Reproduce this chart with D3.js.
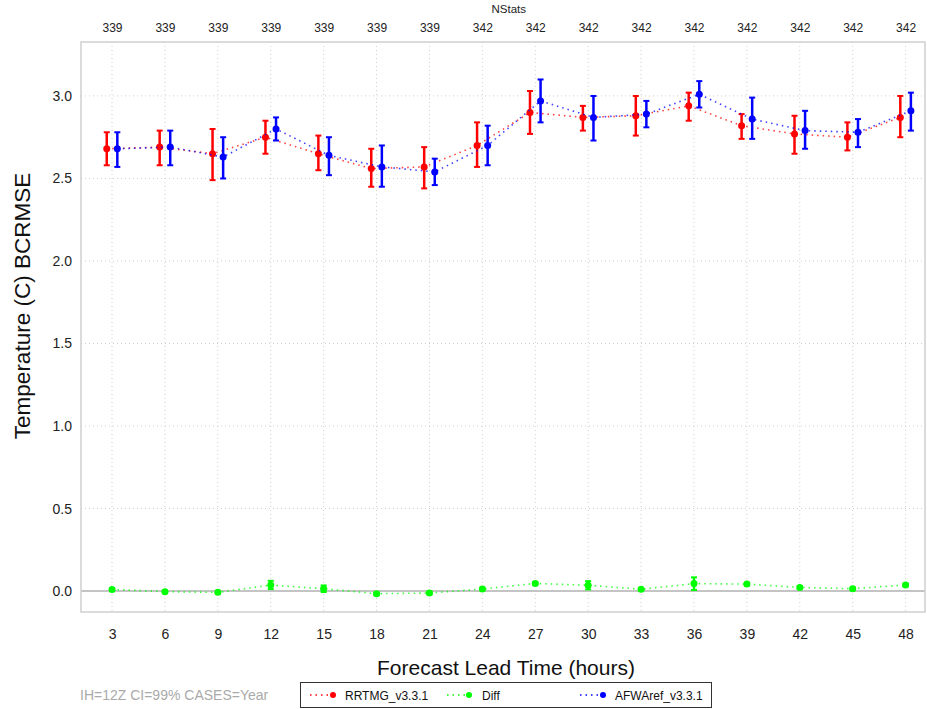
<!DOCTYPE html>
<html><head><meta charset="utf-8">
<script src="https://cdn.jsdelivr.net/npm/d3@7"></script>
<style>body{margin:0;background:#fff}svg{display:block;font-family:"Liberation Sans",Arial,sans-serif}</style>
</head><body><svg id="c" width="927" height="709"></svg>
<script>
const leadTimes = [3,6,9,12,15,18,21,24,27,30,33,36,39,42,45,48];
const nStats = [339,339,339,339,339,339,339,342,342,342,342,342,342,342,342,342];
const yTicks = [0.0,0.5,1.0,1.5,2.0,2.5,3.0];

const rrtmg    = [2.68,2.69,2.65,2.75,2.65,2.56,2.57,2.70,2.90,2.87,2.88,2.94,2.82,2.77,2.75,2.87];
const rrtmgLo  = [2.58,2.58,2.49,2.65,2.55,2.45,2.44,2.57,2.77,2.79,2.76,2.85,2.74,2.65,2.67,2.75];
const rrtmgHi  = [2.78,2.79,2.80,2.85,2.76,2.68,2.69,2.84,3.03,2.94,3.00,3.02,2.89,2.88,2.84,3.00];

const afwa     = [2.68,2.69,2.63,2.80,2.64,2.57,2.54,2.70,2.97,2.87,2.89,3.01,2.86,2.79,2.78,2.91];
const afwaLo   = [2.57,2.58,2.50,2.73,2.52,2.45,2.46,2.58,2.84,2.73,2.81,2.93,2.74,2.68,2.69,2.79];
const afwaHi   = [2.78,2.79,2.75,2.87,2.75,2.70,2.62,2.82,3.10,3.00,2.97,3.09,2.99,2.91,2.86,3.02];

const diff     = [0.010,-0.004,-0.008,0.036,0.014,-0.016,-0.012,0.012,0.046,0.035,0.011,0.045,0.042,0.022,0.014,0.037];
const diffLo   = [0.002,-0.010,-0.016,0.012,-0.006,-0.024,-0.020,0.004,0.038,0.010,0.003,0.006,0.034,0.014,0.006,0.029];
const diffHi   = [0.018,0.002,0.000,0.062,0.034,-0.008,-0.004,0.020,0.054,0.060,0.019,0.083,0.050,0.030,0.022,0.045];

const series = [
  {name:"RRTMG_v3.3.1", color:"#ff0000", off:-0.3, v:rrtmg, lo:rrtmgLo, hi:rrtmgHi},
  {name:"Diff", color:"#00ff00", off:0, v:diff, lo:diffLo, hi:diffHi},
  {name:"AFWAref_v3.3.1", color:"#0000ff", off:0.3, v:afwa, lo:afwaLo, hi:afwaHi}
];

const svg = d3.select("#c");
const L=81, R=925, T=42, B=612;
const x = d3.scaleLinear().domain([1.24,49.1]).range([L,R]);
const y = d3.scaleLinear().domain([-0.127,3.327]).range([B,T]);

// grid
const g = svg.append("g");
g.selectAll(".vg").data(leadTimes).join("line")
  .attr("x1",d=>x(d)).attr("x2",d=>x(d)).attr("y1",T).attr("y2",B)
  .attr("stroke","#d0d0d0").attr("stroke-width",1).attr("stroke-dasharray","1,3");
g.selectAll(".hg").data(yTicks.filter(d=>d!==0)).join("line")
  .attr("x1",L).attr("x2",R).attr("y1",d=>y(d)).attr("y2",d=>y(d))
  .attr("stroke","#d0d0d0").attr("stroke-width",1).attr("stroke-dasharray","1,3");
// zero line
g.append("line").attr("x1",L).attr("x2",R).attr("y1",y(0)).attr("y2",y(0))
  .attr("stroke","#c4c4c4").attr("stroke-width",2);
// frame
g.append("rect").attr("x",L).attr("y",T).attr("width",R-L).attr("height",B-T)
  .attr("fill","none").attr("stroke","#cfcfcf").attr("stroke-width",1.5);

const FF = "Liberation Sans, Arial, sans-serif";
// axes
const xAxis = svg.append("g").attr("transform",`translate(0,${B})`)
  .call(d3.axisBottom(x).tickValues(leadTimes).tickSize(0).tickPadding(17));
xAxis.select(".domain").remove();
xAxis.selectAll("text").attr("font-size",14).attr("fill","#222").attr("font-family",FF);

const topAxis = svg.append("g").attr("transform",`translate(0,${T})`)
  .call(d3.axisTop(x).tickValues(leadTimes).tickSize(0).tickPadding(10).tickFormat((d,i)=>nStats[i]));
topAxis.select(".domain").remove();
topAxis.selectAll("text").attr("font-size",12).attr("fill","#222").attr("font-family",FF);

const yAxis = svg.append("g").attr("transform",`translate(${L},0)`)
  .call(d3.axisLeft(y).tickValues(yTicks).tickSize(0).tickPadding(9).tickFormat(d3.format(".1f")));
yAxis.select(".domain").remove();
yAxis.selectAll("text").attr("font-size",14).attr("fill","#222").attr("font-family",FF);

svg.append("text").attr("x",x(25.5)).attr("y",13).attr("text-anchor","middle")
  .attr("font-size",11.5).attr("fill","#222").text("NStats");
svg.append("text").attr("x",506).attr("y",675).attr("text-anchor","middle")
  .attr("font-size",21).attr("fill","#111").text("Forecast Lead Time (hours)");
svg.append("text").attr("transform",`translate(30,306) rotate(-90)`).attr("text-anchor","middle")
  .attr("font-size",22.5).attr("fill","#111").text("Temperature (C) BCRMSE");
svg.append("text").attr("x",80).attr("y",700).attr("font-size",14).attr("fill","#aaaaaa")
  .text("IH=12Z CI=99% CASES=Year");

// series
series.forEach(s=>{
  const pts = leadTimes.map((t,i)=>({t:t+s.off, v:s.v[i], lo:s.lo[i], hi:s.hi[i]}));
  const sg = svg.append("g");
  sg.append("path").datum(pts)
    .attr("d", d3.line().x(d=>x(d.t)).y(d=>y(d.v)))
    .attr("fill","none").attr("stroke",s.color).attr("stroke-width",1.6)
    .attr("stroke-dasharray","1.5,4").attr("opacity",0.75);
  const eb = sg.selectAll(".eb").data(pts).join("g");
  eb.append("line").attr("x1",d=>x(d.t)).attr("x2",d=>x(d.t))
    .attr("y1",d=>y(d.lo)).attr("y2",d=>y(d.hi)).attr("stroke",s.color).attr("stroke-width",2.5);
  eb.append("line").attr("x1",d=>x(d.t)-3).attr("x2",d=>x(d.t)+3)
    .attr("y1",d=>y(d.lo)).attr("y2",d=>y(d.lo)).attr("stroke",s.color).attr("stroke-width",2);
  eb.append("line").attr("x1",d=>x(d.t)-3).attr("x2",d=>x(d.t)+3)
    .attr("y1",d=>y(d.hi)).attr("y2",d=>y(d.hi)).attr("stroke",s.color).attr("stroke-width",2);
  eb.append("circle").attr("cx",d=>x(d.t)).attr("cy",d=>y(d.v)).attr("r",3.5).attr("fill",s.color);
});

// legend
const lg = svg.append("g");
lg.append("rect").attr("x",300.5).attr("y",682.5).attr("width",411).attr("height",25)
  .attr("fill","#fff").attr("stroke","#333").attr("stroke-width",1);
const legPos = [{x0:310,x1:333,tx:345},{x0:447,x1:469,tx:482},{x0:580,x1:603,tx:615}];
series.forEach((s,i)=>{
  const p = legPos[i];
  lg.append("line").attr("x1",p.x0).attr("x2",p.x1).attr("y1",695).attr("y2",695)
    .attr("stroke",s.color).attr("stroke-width",1.6).attr("stroke-dasharray","1.5,4");
  lg.append("circle").attr("cx",p.x1).attr("cy",695).attr("r",3).attr("fill",s.color);
  lg.append("text").attr("x",p.tx).attr("y",699.5).attr("font-size",12).attr("fill","#111").text(s.name);
});
</script></body></html>
